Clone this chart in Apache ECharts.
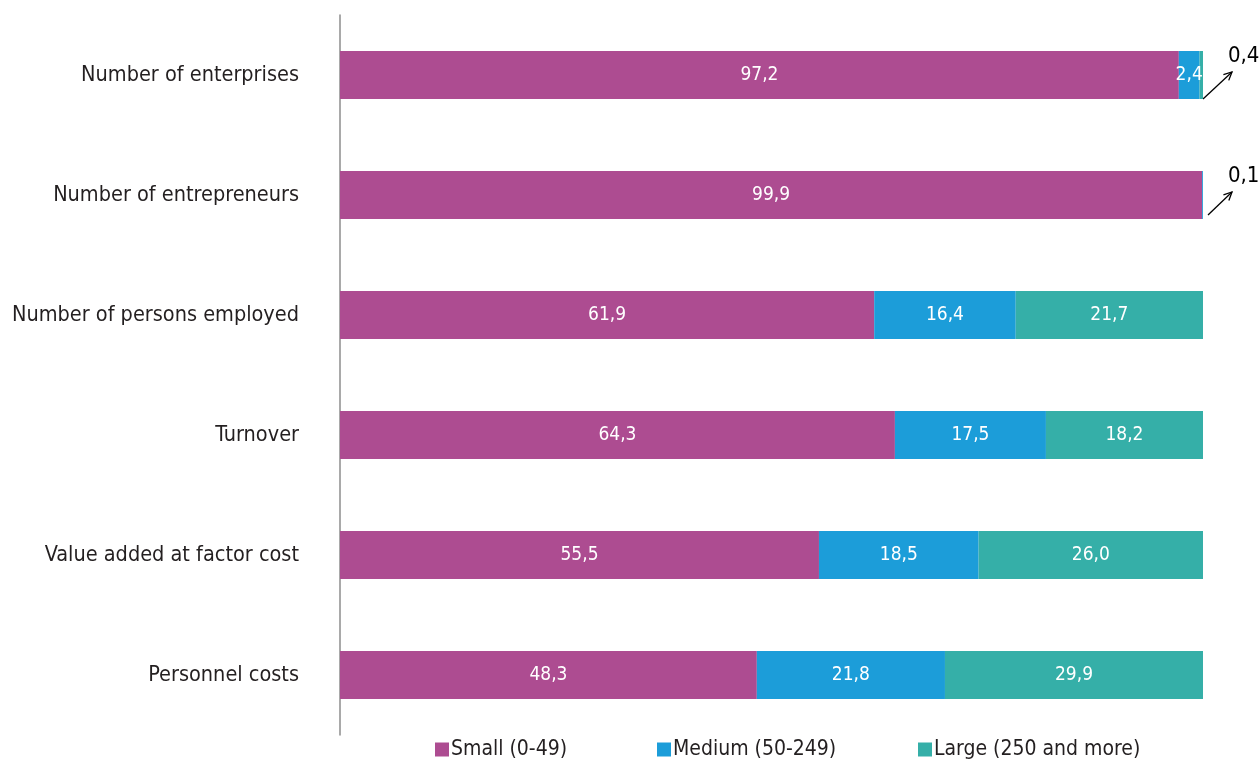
<!DOCTYPE html>
<html><head><meta charset="utf-8">
<script src="https://cdn.jsdelivr.net/npm/echarts@6/dist/echarts.min.js"></script>
<style>html,body{margin:0;padding:0;background:#fff}#c{width:1259px;height:762px}</style>
</head><body><div id="c"></div>
<script>
const categories = ["Number of enterprises","Number of entrepreneurs","Number of persons employed","Turnover","Value added at factor cost","Personnel costs"];
const seriesNames = ["Small (0-49)","Medium (50-249)","Large (250 and more)"];
const small = [97.2, 99.9, 61.9, 64.3, 55.5, 48.3];
const medium = [2.4, 0.1, 16.4, 17.5, 18.5, 21.8];
const large = [0.4, 0.0, 21.7, 18.2, 26.0, 29.9];
const colors = ["#AD4C91","#1C9DD9","#35AFA8"];
const FONT = '"Liberation Sans Narrow","DejaVu Sans Condensed",sans-serif';
const fmt = v => v.toFixed(1).replace('.', ',');
function mk(vals, idx){
  return {
    name: seriesNames[idx], type:'bar', stack:'s', barWidth:48,
    itemStyle:{color:colors[idx]},
    label:{show:true, position:'inside', color:'#fff', fontFamily:FONT, fontSize:19,
      formatter:p=>fmt(p.value)},
    data: vals.map(v => v < 1 ? {value:v, label:{show:false}} : v)
  };
}
const legendLefts = [430, 652, 913];
const chart = echarts.init(document.getElementById('c'));
chart.setOption({
  animation:false,
  textStyle:{fontFamily:FONT},
  grid:{left:340, right:56, top:15, bottom:27, containLabel:false, outerBoundsMode:'none'},
  legend: seriesNames.map((n,i)=>({top:734, left:legendLefts[i], itemWidth:14, itemHeight:14,
    textStyle:{fontFamily:FONT, fontSize:21, color:'#231F20', padding:[0,0,0,-3]},
    icon:'rect', data:[n]})),
  xAxis:{type:'value', min:0, max:100, show:false},
  yAxis:{type:'category', inverse:true, data:categories,
    axisLine:{lineStyle:{color:'#8c8c8c', width:1.5}}, axisTick:{show:false},
    axisLabel:{fontFamily:FONT, fontSize:21.5, color:'#231F20', margin:41}},
  series:[mk(small,0), mk(medium,1), mk(large,2)]
});
function addArrows(){
  const items = [];
  const notes = [{cat:0, text:fmt(large[0]), dx0:0, dy0:24},{cat:1, text:fmt(medium[1]), dx0:5, dy0:20}];
  notes.forEach(n=>{
    const p = chart.convertToPixel({gridIndex:0}, [100, n.cat]);
    const x0 = p[0]+n.dx0, y0 = p[1]+n.dy0, x1 = p[0]+29, y1 = p[1]-3;
    items.push({type:'line', shape:{x1:x0,y1:y0,x2:x1,y2:y1}, style:{stroke:'#000', lineWidth:1.3}});
    const ang = Math.atan2(y1-y0, x1-x0), L=9;
    items.push({type:'polyline', shape:{points:[[x1-L*Math.cos(ang-0.45), y1-L*Math.sin(ang-0.45)],[x1,y1],[x1-L*Math.cos(ang+0.45), y1-L*Math.sin(ang+0.45)]]}, style:{stroke:'#000', lineWidth:1.3, fill:null}});
    items.push({type:'text', x:p[0]+25, y:p[1]-19, style:{text:n.text, font:'22px '+FONT, fill:'#000', textVerticalAlign:'middle'}});
  });
  chart.setOption({graphic:items});
}
addArrows();
</script></body></html>
